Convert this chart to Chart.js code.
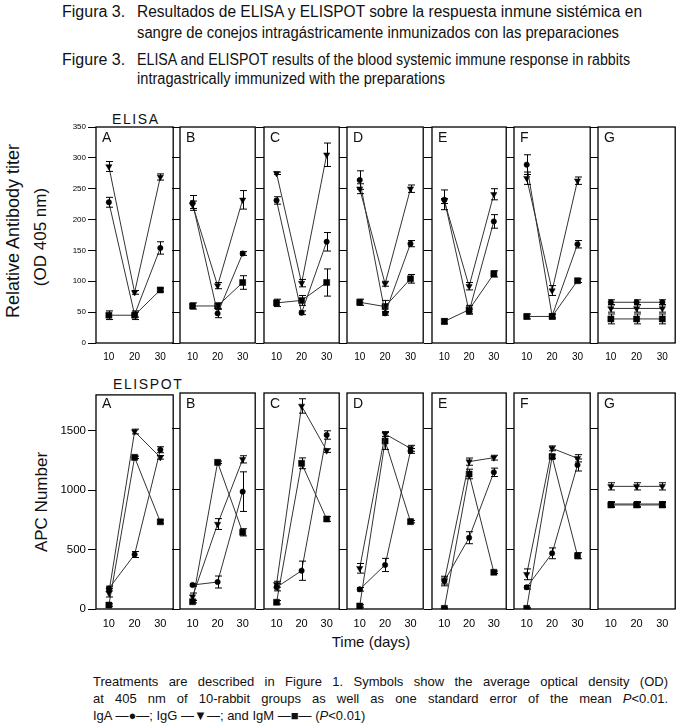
<!DOCTYPE html>
<html>
<head>
<meta charset="utf-8">
<script src="https://cdn.jsdelivr.net/npm/chart.js@4.4.1/dist/chart.umd.min.js"></script>
<style>
  body { margin: 0; background: #fff; }
  #page { position: relative; width: 679px; height: 723px; overflow: hidden; font-family: "Liberation Sans", Arial, sans-serif; color: #111; }
  #page canvas { position: absolute; }
  .t { position: absolute; white-space: nowrap; line-height: 1; }
  .title { font-family: "Liberation Sans Narrow", "Liberation Sans", Arial, sans-serif; font-size: 16px; transform-origin: 0 50%; }
  .cap { font-size: 13px; }
  .rot { transform: translate(-50%, -50%) rotate(-90deg); font-size: 17px; }
  .letter { font-size: 14px; }
  .sect { font-size: 14px; letter-spacing: 1.6px; }
</style>
</head>
<body>
<div id="page">
  <div class="t title" style="left:62px;top:4px">Figura 3.</div>
  <div class="t title fit" data-w="505" style="left:137px;top:4px">Resultados de ELISA y ELISPOT sobre la respuesta inmune sistémica en</div>
  <div class="t title fit" data-w="482" style="left:137px;top:25px">sangre de conejos intragástricamente inmunizados con las preparaciones</div>
  <div class="t title" style="left:62px;top:52px">Figure 3.</div>
  <div class="t title fit" data-w="493" style="left:137px;top:52px">ELISA and ELISPOT results of the blood systemic immune response in rabbits</div>
  <div class="t title fit" data-w="308" style="left:137px;top:71px">intragastrically immunized with the preparations</div>

  <div class="t sect" style="left:112px;top:112px">ELISA</div>
  <div class="t sect" style="left:113px;top:377px">ELISPOT</div>

  <div class="t rot" style="left:13px;top:231px;font-size:18px">Relative Antibody titer</div>
  <div class="t rot" style="left:40px;top:237px">(OD 405 nm)</div>
  <div class="t rot" style="left:41px;top:502px">APC Number</div>

  <div class="t" style="left:371px;top:641px;font-size:15px;transform:translate(-50%,-50%)">Time (days)</div>

  <div class="t cap just" data-w="575" style="left:93px;top:675px">Treatments are described in Figure 1. Symbols show the average optical density (OD)</div>
  <div class="t cap just" data-w="575" style="left:93px;top:692px">at 405 nm of 10-rabbit groups as well as one standard error of the mean <i>P</i>&lt;0.01.</div>
  <div class="t cap" style="left:93px;top:709px">IgA ―●―; IgG ―▼―; and IgM ―■― (<i>P</i>&lt;0.01)</div>
</div>

<script>
// sampling days and panel names
const days = [10, 20, 30];
const panels = ['A', 'B', 'C', 'D', 'E', 'F', 'G'];
const elisaTicks = [0, 50, 100, 150, 200, 250, 300, 350];
const spotTicks = [0, 500, 1000, 1500];

// ELISA, relative antibody titer (OD 405 nm), one row per panel
const elisaIgA    = [[228, 46, 154], [227, 48, 145], [231, 49, 164], [264, 48, 161], [232, 51, 197], [289, 44, 160], [66, 66, 66]];
const elisaIgAErr = [[8, 4, 10], [12, 7, 3], [6, 3, 15], [15, 3, 5], [16, 4, 11], [16, 3, 6], [4, 4, 4]];
const elisaIgG    = [[286, 82, 269], [224, 93, 232], [275, 97, 305], [250, 96, 250], [230, 92, 241], [267, 85, 263], [56, 56, 56]];
const elisaIgGErr = [[8, 3, 5], [6, 5, 15], [2, 6, 19], [8, 4, 6], [4, 6, 9], [10, 8, 6], [6, 6, 6]];
const elisaIgM    = [[45, 45, 86], [60, 60, 98], [65, 69, 98], [66, 59, 104], [35, 54, 112], [43, 43, 101], [39, 39, 39]];
const elisaIgMErr = [[7, 7, 3], [5, 5, 11], [6, 8, 22], [5, 10, 7], [4, 7, 5], [4, 4, 3], [8, 8, 8]];

// ELISPOT, APC number
const spotIgA    = [[172, 458, 1339], [200, 225, 978], [181, 319, 1450], [164, 367, 1317], [233, 594, 1139], [181, 464, 1200], [875, 875, 875]];
const spotIgAErr = [[20, 25, 25], [10, 50, 165], [30, 80, 35], [15, 55, 20], [40, 50, 35], [15, 45, 50], [20, 20, 20]];
const spotIgG    = [[136, 1492, 1275], [103, 708, 1247], [206, 1692, 1320], [339, 1458, 1339], [233, 1228, 1261], [289, 1339, 1256], [1022, 1022, 1022]];
const spotIgGErr = [[35, 20, 15], [30, 45, 30], [25, 60, 15], [40, 20, 25], [25, 30, 20], [45, 20, 30], [30, 30, 30]];
const spotIgM    = [[33, 1275, 733], [61, 1222, 639], [56, 1214, 750], [25, 1400, 728], [5, 1125, 306], [5, 1270, 444], [867, 867, 867]];
const spotIgMErr = [[10, 10, 15], [10, 10, 30], [15, 45, 20], [10, 70, 10], [5, 40, 10], [5, 15, 25], [20, 20, 20]];

const family = '"Liberation Sans", Arial, sans-serif';

// page geometry (plot areas, px)
const panelLeft  = [96, 180, 264, 347, 432, 514, 598];
const panelRight = [175, 257, 341, 425, 508, 592, 677];
const padL = 45, padR = 3, padT = 7, padB = 24;

const rows = [
  { top: 127, bottom: 343, max: 350, ticks: elisaTicks, yFont: 8, xFont: 10,
    values: [elisaIgA, elisaIgG, elisaIgM], errors: [elisaIgAErr, elisaIgGErr, elisaIgMErr] },
  { top: 393, bottom: 609, max: 1800, ticks: spotTicks, yFont: 11.5, xFont: 11,
    values: [spotIgA, spotIgG, spotIgM], errors: [spotIgAErr, spotIgGErr, spotIgMErr] },
];

const seriesStyle = [
  { label: 'IgA', pointStyle: 'circle', radius: 2.7, rotation: 0 },
  { label: 'IgG', pointStyle: 'triangle', radius: 3.6, rotation: 180 },
  { label: 'IgM', pointStyle: 'rect', radius: 4.3, rotation: 0 },
];

// +/- one SEM, drawn through the y scale
const errorBars = {
  id: 'errorBars',
  afterDatasetsDraw(chart) {
    const { ctx } = chart;
    const ys = chart.scales.y;
    ctx.save();
    ctx.strokeStyle = '#000';
    ctx.lineWidth = 1;
    chart.data.datasets.forEach((ds, i) => {
      chart.getDatasetMeta(i).data.forEach((pt, j) => {
        const v = ds.data[j].y, e = ds.errors[j];
        const y1 = ys.getPixelForValue(v + e), y2 = ys.getPixelForValue(v - e);
        const x = Math.round(pt.x) + 0.5;
        ctx.beginPath();
        ctx.moveTo(x, y1); ctx.lineTo(x, y2);
        ctx.moveTo(x - 3.5, y1); ctx.lineTo(x + 3.5, y1);
        ctx.moveTo(x - 3.5, y2); ctx.lineTo(x + 3.5, y2);
        ctx.stroke();
      });
    });
    ctx.restore();
  }
};

// closed box round each panel
const frame = {
  id: 'frame',
  afterDraw(chart) {
    const { ctx, chartArea: a } = chart;
    ctx.save();
    ctx.strokeStyle = '#000';
    ctx.lineWidth = 1.3;
    ctx.strokeRect(a.left, a.top, a.right - a.left, a.bottom - a.top);
    ctx.restore();
  }
};

const page = document.getElementById('page');

rows.forEach((row, r) => {
  panels.forEach((name, p) => {
    const w = panelRight[p] - panelLeft[p];
    const h = row.bottom - row.top;
    const canvas = document.createElement('canvas');
    canvas.width = w + padL + padR;
    canvas.height = h + padT + padB;
    canvas.style.left = (panelLeft[p] - padL) + 'px';
    canvas.style.top = (row.top - padT) + 'px';
    page.appendChild(canvas);

    const letter = document.createElement('div');
    letter.className = 't letter';
    letter.textContent = name;
    letter.style.left = (panelLeft[p] + 6) + 'px';
    letter.style.top = (row.top + 3) + 'px';
    page.appendChild(letter);

    new Chart(canvas, {
      type: 'line',
      data: {
        datasets: seriesStyle.map((s, k) => ({
          label: s.label,
          data: days.map((d, j) => ({ x: d, y: row.values[k][p][j] })),
          errors: row.errors[k][p],
          borderColor: '#333',
          borderWidth: 1,
          backgroundColor: '#000',
          pointBackgroundColor: '#000',
          pointBorderColor: '#000',
          pointBorderWidth: 0.5,
          pointStyle: s.pointStyle,
          pointRadius: s.radius,
          pointRotation: s.rotation,
          tension: 0,
        }))
      },
      options: {
        responsive: false,
        animation: false,
        events: [],
        layout: { padding: { top: padT, right: padR, left: 0, bottom: 0 } },
        plugins: { legend: { display: false }, tooltip: { enabled: false } },
        scales: {
          x: {
            type: 'linear', min: 5, max: 35,
            afterBuildTicks: s => { s.ticks = days.map(v => ({ value: v })); },
            afterFit: s => { s.height = padB; },
            grid: { display: false, drawTicks: false },
            border: { display: false },
            ticks: { color: '#000', padding: 8, maxRotation: 0, font: { family, size: row.xFont } }
          },
          y: {
            min: 0, max: row.max,
            afterBuildTicks: s => { s.ticks = row.ticks.map(v => ({ value: v })); },
            afterFit: s => { s.width = padL; },
            grid: { drawOnChartArea: false, drawTicks: true, tickLength: 8, color: '#000', lineWidth: 1 },
            border: { display: false },
            ticks: { display: p === 0, autoSkip: false, color: '#000', padding: 2,
                     callback: v => String(v), font: { family, size: row.yFont } }
          }
        }
      },
      plugins: [errorBars, frame]
    });
  });
});

// squeeze title lines to the printed width, justify caption lines
document.querySelectorAll('.fit').forEach(el => {
  const k = Number(el.dataset.w) / el.getBoundingClientRect().width;
  el.style.transform = `scaleX(${k})`;
});
document.querySelectorAll('.just').forEach(el => {
  const n = (el.textContent.match(/ /g) || []).length;
  const extra = (Number(el.dataset.w) - el.getBoundingClientRect().width) / n;
  el.style.wordSpacing = extra + 'px';
});
</script>
</body>
</html>
